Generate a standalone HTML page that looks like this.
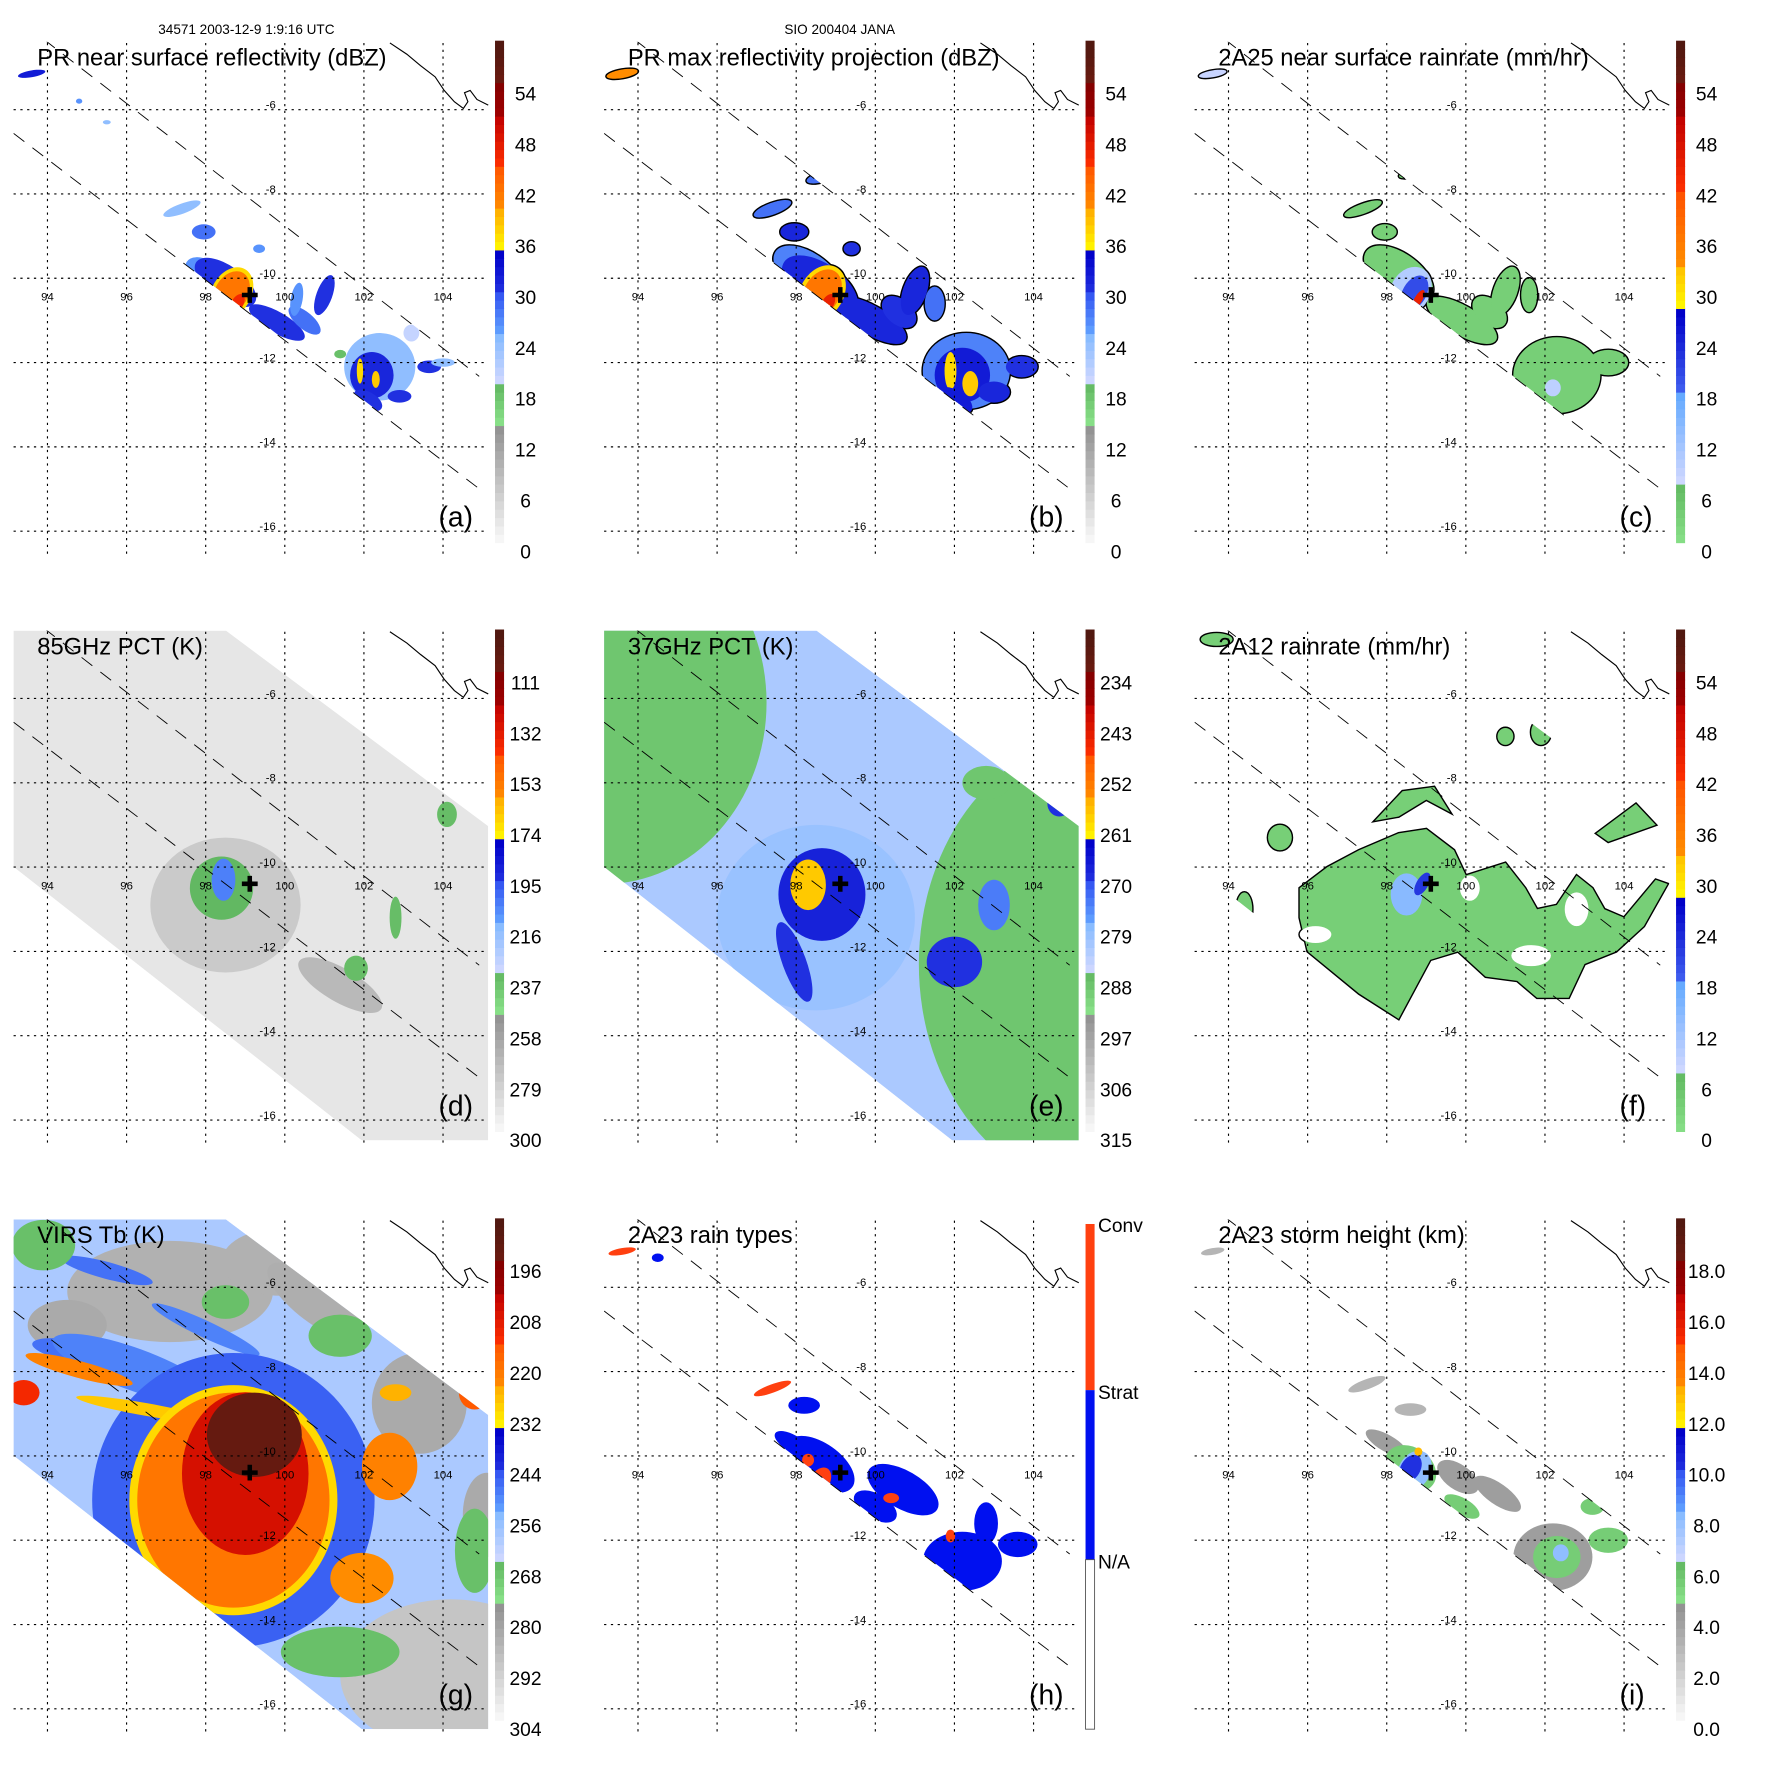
<!DOCTYPE html>
<html><head><meta charset="utf-8">
<style>
html,body{margin:0;padding:0;background:#fff;}
svg{display:block;font-family:"Liberation Sans",sans-serif;}
</style></head>
<body>
<svg id="fig" xmlns="http://www.w3.org/2000/svg" viewBox="0 0 1567 1567" width="1771" height="1771">
<rect x="0" y="0" width="1567" height="1567" fill="#fff"/>
<text x="218" y="30" font-size="12" text-anchor="middle">34571 2003-12-9 1:9:16 UTC</text>
<text x="743" y="30" font-size="12" text-anchor="middle">SIO 200404 JANA</text>
<g id="panels"></g>
</svg>
<script>
// ---- data arrays: [lon, lat, rxDeg, ryDeg, value, angleDeg] ----
const aCells = [
[93.6,-5.15,0.35,0.08,32,-10],[94.8,-5.8,0.08,0.06,26,0],[95.5,-6.3,0.1,0.05,24,0],
[97.4,-8.35,0.5,0.12,24,-20],[97.95,-8.9,0.3,0.18,28,0],[96.8,-9.55,0.25,0.1,24,0],
[98.65,-7.4,0.4,0.1,22,-15],[99.35,-9.3,0.15,0.1,26,0],[96.5,-9.4,0.15,0.1,30,0],
[97.95,-9.85,0.5,0.3,26,30],[98.5,-10.1,0.9,0.4,30,35],[99.8,-11.05,0.8,0.25,30,30],
[100.5,-11.0,0.5,0.2,28,40],[101.0,-10.4,0.2,0.5,30,20],[100.3,-10.5,0.15,0.4,26,10],
[98.65,-10.35,0.5,0.65,37,30],[98.65,-10.35,0.42,0.55,42,30],[98.8,-10.6,0.15,0.25,46,30],
[102.4,-12.1,0.9,0.8,24,0],[102.2,-12.3,0.55,0.55,31,0],[101.9,-12.2,0.08,0.3,37,0],
[102.3,-12.4,0.1,0.2,38,0],[102.1,-12.9,0.4,0.2,30,30],[102.9,-12.8,0.3,0.15,30,0],
[103.65,-12.1,0.3,0.15,30,0],[103.2,-11.3,0.2,0.2,20,0],[101.4,-11.8,0.15,0.1,18,0],[104.0,-12.0,0.3,0.1,24,0]
];
const bCells = [
[93.6,-5.15,0.4,0.1,40,-10],[97.4,-8.35,0.5,0.14,28,-20],[97.95,-8.9,0.35,0.2,31,0],
[98.65,-7.6,0.4,0.12,28,-15],[99.4,-9.3,0.2,0.15,30,0],
[98.3,-9.9,1.0,0.5,27,35],[98.6,-10.2,1.1,0.55,31,35],[99.9,-11.0,1.0,0.35,31,30],
[100.6,-10.8,0.5,0.3,30,40],[101.0,-10.3,0.3,0.6,31,20],[101.5,-10.6,0.25,0.4,28,0],
[98.65,-10.35,0.55,0.7,37,30],[98.65,-10.35,0.45,0.6,42,30],[98.8,-10.6,0.15,0.25,47,30],
[102.3,-12.2,1.1,0.9,27,0],[102.2,-12.3,0.7,0.65,32,0],[101.9,-12.2,0.15,0.45,37,0],
[102.4,-12.5,0.2,0.3,38,0],[102.0,-12.9,0.5,0.25,32,30],[103.0,-12.7,0.4,0.25,31,0],
[103.7,-12.1,0.4,0.25,30,0]
];
const cCells = [
[93.6,-5.15,0.35,0.08,8,-10],[97.4,-8.35,0.5,0.12,3,-20],[97.95,-8.9,0.3,0.18,3,0],
[98.65,-7.5,0.35,0.1,3,-15],[98.3,-9.9,1.0,0.5,3,35],[99.9,-11.0,1.0,0.35,3,30],
[100.6,-10.8,0.5,0.3,3,40],[101.0,-10.3,0.3,0.6,3,20],[101.6,-10.4,0.2,0.4,3,0],
[98.6,-10.3,0.5,0.6,10,30],[98.7,-10.35,0.3,0.45,20,30],[98.8,-10.5,0.1,0.25,45,30],
[102.3,-12.3,1.1,0.9,3,0],[103.6,-12.0,0.5,0.3,3,0],[102.2,-12.6,0.2,0.2,9,0]
];
const dCells = [
[98.5,-10.9,1.9,1.6,278,0],[101.4,-12.8,1.2,0.4,270,30],[98.4,-10.5,0.8,0.75,234,0],
[98.45,-10.3,0.3,0.5,205,0],[101.8,-12.4,0.3,0.3,236,0],[102.8,-11.2,0.15,0.5,236,0],[104.1,-8.75,0.25,0.3,236,0]
];
const eCells = [
[93.15,-6.1,4.1,4.3,289,0],[105.7,-12.3,4.6,5.4,289,0],[102.8,-8.0,0.6,0.4,289,0],
[98.5,-11.2,2.5,2.2,280,0],[98.65,-10.65,1.1,1.1,268,0],[97.95,-12.25,0.3,1.0,270,-20],
[98.3,-10.42,0.45,0.6,258,0],[102.0,-12.25,0.7,0.6,270,0],[103.0,-10.9,0.4,0.6,274,0],[104.65,-8.5,0.3,0.3,270,0]
];
const fPolys = [
{v:3,pts:[[95.8,-10.5],[96.5,-10.0],[97.3,-9.6],[98.3,-9.2],[99.0,-9.1],[99.7,-9.6],[100.0,-10.2],[101.0,-9.9],[101.5,-10.5],[101.8,-11.0],[102.3,-10.9],[102.8,-10.2],[103.2,-10.5],[103.5,-11.0],[104.0,-11.2],[104.8,-10.3],[105.1,-10.4],[104.5,-11.4],[103.8,-12.0],[103.0,-12.3],[102.6,-13.1],[101.8,-13.1],[101.3,-12.7],[100.5,-12.6],[99.8,-12.0],[99.1,-12.2],[98.3,-13.6],[97.3,-13.0],[96.0,-12.0],[95.8,-11.2]]},
{v:3,pts:[[97.7,-8.9],[98.4,-8.2],[99.2,-8.1],[99.6,-8.7],[99.0,-8.4],[98.3,-8.8]]},
{v:3,pts:[[103.3,-9.2],[104.3,-8.5],[104.8,-9.0],[103.6,-9.4]]}
];
const fCells = [
[96.2,-11.6,0.4,0.2,null,0],[100.1,-10.5,0.25,0.3,null,0],[101.65,-12.1,0.5,0.25,null,0],[102.8,-11.0,0.3,0.4,null,0],
[98.5,-10.65,0.4,0.5,14,0],[98.9,-10.4,0.15,0.3,22,30],[101.0,-6.9,0.2,0.2,3,0],[101.9,-6.8,0.25,0.3,3,0],
[93.7,-4.6,0.4,0.15,3,0],[95.3,-9.3,0.3,0.3,3,0],[94.4,-11.0,0.2,0.4,3,0]
];
const gCells = [
[97.1,-6.1,2.6,1.2,285,0],[99.9,-5.4,1.5,0.8,285,0],[94.5,-6.9,1.0,0.6,283,0],[100.8,-6.35,1.5,0.5,284,37],
[95.5,-5.6,1.2,0.2,248,15],[98.0,-7.0,1.5,0.2,250,25],[94.6,-7.5,1.0,0.25,248,10],
[93.9,-5.0,0.8,0.6,268,0],[98.5,-6.35,0.6,0.4,268,0],[101.4,-7.15,0.8,0.5,268,0],[96.2,-10.1,0.5,0.4,268,0],
[104.2,-15.2,2.8,1.8,290,0],[103.4,-8.75,1.2,1.2,283,0],[105.1,-11.4,0.6,1.0,283,0],
[101.4,-14.65,1.5,0.6,268,0],[104.8,-12.25,0.5,1.0,268,0],
[96.2,-7.95,2.2,0.5,250,20],[98.7,-11.05,3.57,3.49,246,0],
[94.8,-7.95,1.4,0.2,222,15],[96.5,-8.9,1.8,0.15,228,10],[93.4,-8.5,0.4,0.3,212,0],
[98.7,-11.05,2.63,2.73,230,0],[98.7,-11.05,2.43,2.55,220,0],[99.0,-10.42,1.6,1.93,206,0],[99.23,-9.5,1.2,1.0,192,0],
[102.65,-10.25,0.7,0.8,222,0],[101.95,-12.9,0.8,0.6,224,0],[102.8,-8.5,0.4,0.2,225,0],[104.8,-8.5,0.4,0.4,215,0]
];
const hCells = [
[93.6,-5.15,0.35,0.08,2,-10],[94.5,-5.3,0.15,0.1,1,0],[97.4,-8.4,0.5,0.1,2,-20],[98.2,-8.8,0.4,0.2,1,0],
[98.6,-10.2,1.0,0.5,1,35],[97.9,-9.7,0.5,0.2,1,30],[100.7,-10.8,1.0,0.45,1,30],[100.0,-11.2,0.6,0.3,1,30],
[102.2,-12.5,1.0,0.7,1,0],[103.6,-12.1,0.5,0.3,1,0],[102.8,-11.6,0.3,0.5,1,0],
[98.6,-10.6,0.25,0.35,2,30],[98.3,-10.1,0.15,0.15,2,0],[100.4,-11.0,0.2,0.12,2,0],[101.9,-11.9,0.12,0.15,2,0]
];
const iCells = [
[93.6,-5.15,0.3,0.08,3,-10],[97.5,-8.3,0.5,0.12,3,-20],[98.6,-8.9,0.4,0.15,3,0],[98.0,-9.7,0.6,0.2,4,30],
[99.8,-10.5,0.6,0.3,4,35],[100.8,-10.9,0.7,0.25,4,35],[98.6,-10.3,0.7,0.5,5.5,35],[98.7,-10.35,0.4,0.5,8,30],
[98.6,-10.3,0.25,0.35,10,30],[98.8,-9.9,0.1,0.1,13,0],[99.9,-11.2,0.5,0.2,5.5,30],
[102.2,-12.4,1.0,0.8,4,0],[102.3,-12.4,0.6,0.5,5.5,0],[102.4,-12.3,0.2,0.2,8,0],[103.6,-12.0,0.5,0.3,5.5,0],[103.2,-11.2,0.3,0.2,5.5,0]
];
// colorbar tick labels
const ticksDBZ = ['54','48','42','36','30','24','18','12','6','0'];
const ticks85 = ['111','132','153','174','195','216','237','258','279','300'];
const ticks37 = ['234','243','252','261','270','279','288','297','306','315'];
const ticksIR = ['196','208','220','232','244','256','268','280','292','304'];
const ticksHT = ['18.0','16.0','14.0','12.0','10.0','8.0','6.0','4.0','2.0','0.0'];
const lonTicks = [94,96,98,100,102,104];
const latTicks = [-6,-8,-10,-12,-14,-16];

const NS='http://www.w3.org/2000/svg';
const STD=[[0,.24,'#fafafa','#8c8c8c'],[.24,.32,'#88e088','#5fb55f'],[.32,.42,'#d0d8ff','#80b8ff'],[.42,.5,'#60a0ff','#3050f0'],[.5,.577,'#2030e0','#0000c8'],[.577,.66,'#ffff00','#ffb000'],[.66,.75,'#ff9000','#ff5500'],[.75,.85,'#ff3000','#c00000'],[.85,.92,'#a00000','#800000'],[.92,1.01,'#6a1a10','#4a1810']];
const RAIN=[[0,.12,'#88e088','#60b860'],[.12,.3,'#d0d8ff','#60a8ff'],[.3,.46,'#4060f0','#0000c8'],[.46,.55,'#ffff00','#ffc000'],[.55,.7,'#ff9000','#ff5000'],[.7,.85,'#ff3000','#c00000'],[.85,.92,'#a00000','#800000'],[.92,1.01,'#6a1a10','#4a1810']];
function hx(c){return [parseInt(c.substr(1,2),16),parseInt(c.substr(3,2),16),parseInt(c.substr(5,2),16)];}
function cmap(f,s){f=Math.max(0,Math.min(1,f));for(const g of s){if(f>=g[0]&&f<g[1]){const t=(f-g[0])/(g[1]-g[0]);const a=hx(g[2]),b=hx(g[3]);return 'rgb('+a.map((v,i)=>Math.round(v+(b[i]-v)*t)).join(',')+')';}}return s[s.length-1][3];}

const panels=[
{id:'a',col:0,row:0,title:'PR near surface reflectivity (dBZ)',cells:aCells,vb:0,vt:60,s:STD,ticks:ticksDBZ,sw:'pr',outline:false},
{id:'b',col:1,row:0,title:'PR max reflectivity projection (dBZ)',cells:bCells,vb:0,vt:60,s:STD,ticks:ticksDBZ,sw:'pr',outline:true},
{id:'c',col:2,row:0,title:'2A25 near surface rainrate (mm/hr)',cells:cCells,vb:0,vt:60,s:RAIN,ticks:ticksDBZ,sw:'pr',outline:true},
{id:'d',col:0,row:1,title:'85GHz PCT (K)',cells:dCells,vb:300,vt:90,s:STD,ticks:ticks85,sw:'tmi',base:291},
{id:'e',col:1,row:1,title:'37GHz PCT (K)',cells:eCells,vb:315,vt:225,s:STD,ticks:ticks37,sw:'tmi',base:282},
{id:'f',col:2,row:1,title:'2A12 rainrate (mm/hr)',cells:fCells,polys:fPolys,vb:0,vt:60,s:RAIN,ticks:ticksDBZ,sw:'tmi',outline:true},
{id:'g',col:0,row:2,title:'VIRS Tb (K)',cells:gCells,vb:304,vt:184,s:STD,ticks:ticksIR,sw:'tmi',base:260},
{id:'h',col:1,row:2,title:'2A23 rain types',cells:hCells,type:'rain',sw:'pr'},
{id:'i',col:2,row:2,title:'2A23 storm height (km)',cells:iCells,vb:0,vt:20,s:STD,ticks:ticksHT,sw:'pr'}
];
const root=document.getElementById('panels');
function el(tag,attrs,parent){const e=document.createElementNS(NS,tag);for(const k in attrs)e.setAttribute(k,attrs[k]);(parent||root).appendChild(e);return e;}

panels.forEach(p=>{
  const ox=p.col*522.5, oy=p.row*521;
  const X=lon=>ox+42+(lon-94)*35, Y=lat=>oy+97+(-6-lat)*37.3;
  const g=el('g',{});
  
  
  const defs=el('defs',{},g);
  const cr=el('clipPath',{id:'r'+p.id},defs);
  el('rect',{x:ox+12,y:oy+37,width:420,height:451},cr);
  const cs=el('clipPath',{id:'s'+p.id},defs);
  let sp;
  if(p.sw==='tmi') sp=[[12,37],[200,37],[432,210],[432,488],[320,488],[12,246]];
  else sp=[[12,14],[432,339],[432,438],[12,118]];
  el('polygon',{points:sp.map(q=>(ox+q[0])+','+(oy+q[1])).join(' ')},cs);
  const outer=el('g',{'clip-path':'url(#r'+p.id+')'},g);
  const dg=el('g',{'clip-path':'url(#s'+p.id+')'},outer);
  
  
  const col=v=>{ if(v===null) return '#fff'; if(p.type==='rain') return v===2?'#ff4010':(v===1?'#0010f0':'#fff'); return cmap((v-p.vb)/(p.vt-p.vb),p.s); };
  if(p.base!==undefined){
    const b=el('polygon',{points:sp.map(q=>(ox+q[0])+','+(oy+q[1])).join(' '),fill:col(p.base)},dg);
    
    
  }
  const passes=p.outline?[true,false]:[false];
  passes.forEach(stroke=>{
    (p.polys||[]).forEach(pl=>{
      const e=el('polygon',{points:pl.pts.map(q=>X(q[0])+','+Y(q[1])).join(' '),fill:col(pl.v)},dg);
      if(stroke){e.setAttribute('stroke','#000');e.setAttribute('stroke-width','2.5');}
      
      
    });
    p.cells.forEach(c=>{
      const cx=X(c[0]),cy=Y(c[1]);
      const e=el('ellipse',{cx:cx,cy:cy,rx:c[2]*35,ry:c[3]*37.3,fill:col(c[4]),transform:'rotate('+c[5]+' '+cx+' '+cy+')'},dg);
      if(stroke){e.setAttribute('stroke','#000');e.setAttribute('stroke-width','2.5');}
      
      
    });
  });
  [[39,35,424,333],[12,118,426,434]].forEach(l=>{
    const e=el('line',{x1:ox+l[0],y1:oy+l[1],x2:ox+l[2],y2:oy+l[3],stroke:'#000','stroke-width':0.8,'stroke-dasharray':'12,9'},outer);
    
    
  });
  const cl=el('polyline',{points:[[345,38],[360,48],[372,58],[385,68],[393,80],[402,90],[410,96],[414,90],[411,82],[416,80],[422,88],[432,93]].map(q=>(ox+q[0])+','+(oy+q[1])).join(' '),fill:'none',stroke:'#000','stroke-width':1},g);
  
  
  lonTicks.forEach(lon=>{
    const e=el('line',{x1:X(lon),y1:oy+38,x2:X(lon),y2:oy+492,stroke:'#000','stroke-width':1,'stroke-dasharray':'2,4'},g);
    
    
    const t=el('text',{x:X(lon),y:oy+266,'font-size':10,'text-anchor':'middle'},g);
    t.textContent=lon;
    
    
  });
  latTicks.forEach(lat=>{
    const e=el('line',{x1:ox+12,y1:Y(lat),x2:ox+432,y2:Y(lat),stroke:'#000','stroke-width':1,'stroke-dasharray':'2,4'},g);
    
    
    const t=el('text',{x:ox+244,y:Y(lat)-1,'font-size':10,'text-anchor':'end'},g);
    t.textContent=lat;
    
    
  });
  const cx=ox+221,cy=oy+261;
  const cross=el('path',{d:`M${cx-7} ${cy}H${cx+7}M${cx} ${cy-7}V${cy+7}`,stroke:'#000','stroke-width':4},g);
  
  
  const t=el('text',{x:ox+33,y:oy+58,'font-size':21},g);
  t.textContent=p.title;
  
  
  const lt=el('text',{x:ox+388,y:oy+466,'font-size':25},g);
  lt.textContent='('+p.id+')';
  
  
  const cb=el('g',{},g);
  
  
  const bx=ox+438,bt=oy+36,bh=444;
  if(p.type==='rain'){
    el('rect',{x:bx,y:bt+5,width:8,height:147,fill:'#ff4010'},cb);
    el('rect',{x:bx,y:bt+152,width:8,height:150,fill:'#0010f0'},cb);
    el('rect',{x:bx,y:bt+302,width:8,height:150,fill:'#fff',stroke:'#555','stroke-width':0.8},cb);
    [['Conv',bt+12],['Strat',bt+160],['N/A',bt+310]].forEach(q=>{
      const tt=el('text',{x:bx+11,y:q[1],'font-size':17},cb);
      tt.textContent=q[0];
      
      
    });
  } else {
    const N=60;
    for(let k=0;k<N;k++){
      const f=(k+0.5)/N;
      el('rect',{x:bx,y:bt+bh*(1-(k+1)/N),width:8,height:bh/N+0.6,fill:cmap(f,p.s)},cb);
    }
    p.ticks.forEach((tk,k)=>{
      const tt=el('text',{x:bx+27,y:oy+38+45*(k+1)+6,'font-size':17,'text-anchor':'middle'},cb);
      tt.textContent=tk;
      
      
    });
  }
});
</script>
</body></html>
